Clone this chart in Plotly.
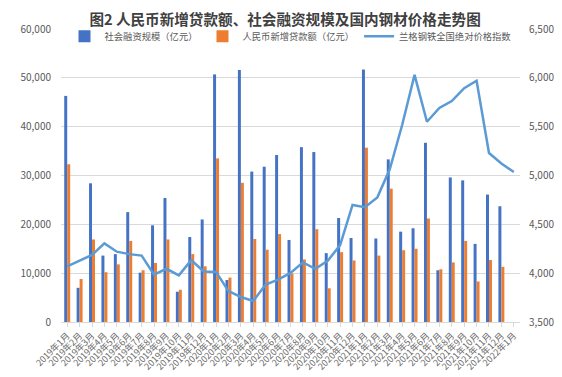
import plotly.graph_objects as go

months = [f"2019年{m}月" for m in range(1, 13)] + [f"2020年{m}月" for m in range(1, 13)] + \
         [f"2021年{m}月" for m in range(1, 13)] + ["2022年1月"]

social_financing = [46300, 7000, 28400, 13600, 13900, 22500, 10100, 19800, 25400, 6200, 17400, 21000,
                    50700, 8600, 51600, 30800, 31800, 34200, 16800, 35800, 34800, 14100, 21300, 17200,
                    51700, 17100, 33300, 18500, 19200, 36700, 10600, 29600, 29000, 16000, 26100, 23700,
                    None]
new_loans = [32300, 8800, 16900, 10200, 11800, 16600, 10600, 12100, 16900, 6600, 13900, 11400,
             33500, 9100, 28500, 17000, 14800, 18000, 9900, 12800, 19000, 6900, 14300, 12600,
             35700, 13600, 27300, 14700, 15000, 21200, 10800, 12200, 16600, 8300, 12700, 11300,
             None]
steel_index = [4070, 4125, 4187, 4305, 4220, 4195, 4180, 3985, 4045, 3978, 4133, 4018,
               4012, 3816, 3756, 3715, 3884, 3934, 4002, 4110, 4045, 4126, 4288, 4699,
               4675, 4776, 5063, 5517, 6030, 5550, 5692, 5762, 5894, 5971, 5230, 5123,
               5035]

FONT = "Noto Sans CJK SC"
GRAY = "#595959"

fig = go.Figure()
fig.add_trace(go.Bar(x=months, y=social_financing, name="社会融资规模（亿元）",
                     marker_color="#4472C4", marker_line_width=0))
fig.add_trace(go.Bar(x=months, y=new_loans, name="人民币新增贷款额（亿元）",
                     marker_color="#ED7D31", marker_line_width=0))
fig.add_trace(go.Scatter(x=months, y=steel_index, name="兰格钢铁全国绝对价格指数",
                         mode="lines", line=dict(color="#5B9BD5", width=2.5), yaxis="y2"))

fig.update_layout(
    width=562, height=377,
    margin=dict(l=53, r=50, t=21, b=59),
    paper_bgcolor="white", plot_bgcolor="white",
    font=dict(family=FONT, size=10, color=GRAY),
    title=dict(text="<b>图2 人民币新增贷款额、社会融资规模及国内钢材价格走势图</b>",
               x=0.493, xanchor="center", y=0.982, yanchor="top",
               font=dict(family=FONT, size=14.6, color="#404040")),
    barmode="group", bargap=0.52, bargroupgap=0.0,
    showlegend=True,
    legend=dict(orientation="h", x=0.5, xanchor="center", y=0.975, yanchor="middle",
                font=dict(size=9.3, color=GRAY), bgcolor="rgba(0,0,0,0)",
                itemwidth=30, traceorder="normal"),
    xaxis=dict(type="category", tickangle=-45, tickfont=dict(size=9, color="#6a6a6a"),
               showline=True, linecolor="#D9D9D9", linewidth=1, ticks="outside",
               tickcolor="#D9D9D9", ticklen=4, showgrid=False),
    yaxis=dict(range=[0, 60000], dtick=10000, tickformat=",", showgrid=True,
               gridcolor="#D9D9D9", gridwidth=1, zeroline=False, ticks="",
               ticklabelstandoff=9, tickfont=dict(size=10, color=GRAY)),
    yaxis2=dict(range=[3500, 6500], dtick=500, tickformat=",", overlaying="y", side="right",
                showgrid=False, zeroline=False, ticklabelstandoff=8,
                tickfont=dict(size=10, color=GRAY)),
)

fig.write_html("out.html")
